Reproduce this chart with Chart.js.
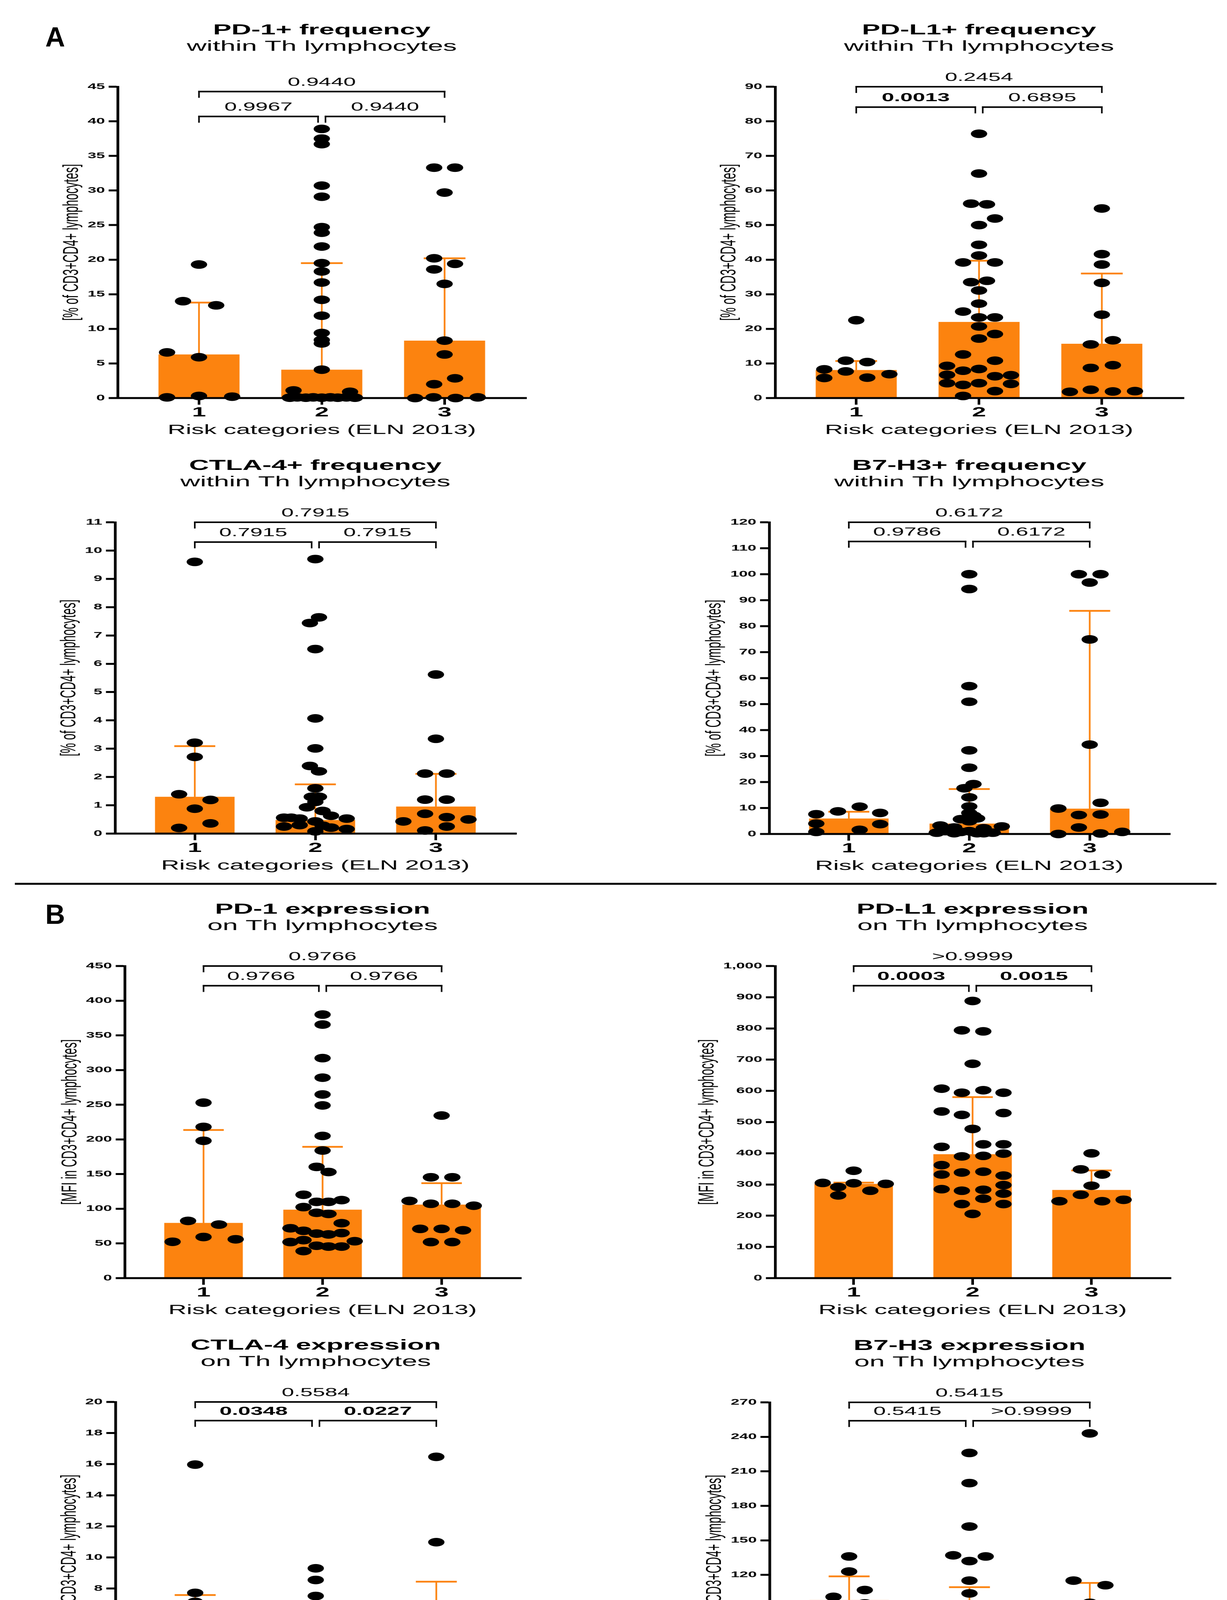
<!DOCTYPE html>
<html>
<head>
<meta charset="utf-8">
<script src="https://cdn.jsdelivr.net/npm/chart.js@4.4.1/dist/chart.umd.min.js"></script>
<style>
  html, body { margin: 0; padding: 0; background: #fff; }
  body { width: 3142px; height: 4522px; position: relative; overflow: hidden; }
  .panel { position: absolute; width: 800px; transform: scaleX(1.9); transform-origin: 0 0; }
  .letter { position: absolute; font: bold 70px 'Liberation Sans', Arial, sans-serif; line-height: 70px; color: #000; }
  .rule { position: absolute; left: 38px; top: 2260px; width: 3077px; height: 5px; background: #000; }
</style>
</head>
<body>
<div class="letter" style="left:116px;top:60px">A</div>
<div class="letter" style="left:116px;top:2306px">B</div>
<div class="rule"></div>
<script>
// --- data ---
const CATEGORIES = [1, 2, 3];
const CAT_LABELS = ['1', '2', '3'];
const X_TITLE = 'Risk categories (ELN 2013)';
// p-values order: 1 vs 3 (top), 1 vs 2, 2 vs 3

// PD-1+ frequency
const pd1FreqMedian = [6.3, 4.1, 8.3];
const pd1FreqUpper = [13.8, 19.5, 20.2];
const pd1FreqP = ['0.9440', '0.9967', '0.9440'];
const pd1FreqBold = [0, 0, 0];
const pd1FreqG1 = [[0,19.3],[-0.13,14.0],[0.14,13.4],[-0.26,6.6],[0,5.9],[-0.26,0.1],[0,0.3],[0.27,0.2]];
const pd1FreqG2 = [[0,38.9],[0,37.5],[0,36.7],[0,30.7],[0,29.1],[0,24.7],[0,23.9],[0,21.9],[0,19.5],[0,18.3],[0,16.7],[0,14.2],[0,11.9],[0,9.4],[0,8.4],[0,7.9],[0,4.1],[-0.23,1.1],[0.23,0.9],[-0.26,0.05],[-0.2,0.1],[-0.13,0.05],[-0.07,0.1],[0,0.05],[0.07,0.1],[0.13,0.05],[0.2,0.1],[0.27,0.05]];
const pd1FreqG3 = [[-0.085,33.3],[0.085,33.3],[0,29.7],[-0.085,20.2],[0.085,19.4],[-0.085,18.6],[0,16.5],[0,8.3],[0,6.3],[0.085,2.85],[-0.085,2.0],[-0.24,0],[-0.09,0.1],[0.09,0],[0.27,0.1]];

// PD-L1+ frequency
const pdl1FreqMedian = [8.1, 22.0, 15.7];
const pdl1FreqUpper = [10.7, 39.7, 36.0];
const pdl1FreqP = ['0.2454', '0.0013', '0.6895'];
const pdl1FreqBold = [0, 1, 0];
const pdl1FreqG1 = [[0,22.5],[-0.085,10.8],[0.09,10.4],[-0.26,8.3],[-0.085,7.7],[0.27,6.9],[-0.26,5.8],[0.09,5.9]];
const pdl1FreqG2 = [[0,76.4],[0,64.9],[-0.065,56.2],[0.065,56.0],[0.13,51.9],[0,50.0],[0,44.3],[0,41.2],[-0.13,39.2],[0.13,39.2],[-0.065,33.5],[0.065,33.9],[0,31.1],[0,27.3],[-0.13,25.0],[0,23.3],[0.13,23.3],[0,20.7],[0.13,18.5],[0,17.2],[-0.13,12.6],[0.13,10.8],[-0.26,9.3],[0,8.4],[-0.13,7.9],[-0.26,6.7],[0.13,6.3],[0.26,6.6],[-0.26,4.3],[-0.13,3.8],[0,4.3],[0.26,4.1],[0.13,2.0],[-0.13,0.6]];
const pdl1FreqG3 = [[0,54.8],[0,41.6],[0,38.6],[0,33.3],[0,24.1],[-0.09,15.5],[0.09,16.7],[-0.09,8.7],[0.09,9.5],[-0.26,1.8],[-0.09,2.4],[0.09,1.9],[0.27,2.0]];

// CTLA-4+ frequency
const ctla4FreqMedian = [1.30, 0.48, 0.955];
const ctla4FreqUpper = [3.09, 1.74, 2.11];
const ctla4FreqP = ['0.7915', '0.7915', '0.7915'];
const ctla4FreqBold = [0, 0, 0];
const ctla4FreqG1 = [[0,9.6],[0,3.21],[0,2.71],[-0.13,1.39],[0.13,1.19],[0,0.88],[0.13,0.36],[-0.13,0.2]];
const ctla4FreqG2 = [[0,9.7],[0.03,7.64],[-0.045,7.44],[0,6.52],[0,4.07],[0,3.01],[-0.045,2.39],[0.03,2.2],[0,1.6],[-0.03,1.3],[0.03,1.3],[0,1.12],[-0.07,0.93],[0.06,0.8],[-0.26,0.56],[-0.2,0.56],[-0.13,0.53],[0.13,0.63],[0.26,0.53],[-0.26,0.25],[-0.13,0.3],[0,0.43],[0.13,0.21],[0.26,0.16],[0,0.08],[0.06,0.28]];
const ctla4FreqG3 = [[0,5.62],[0,3.35],[-0.09,2.12],[0.09,2.12],[-0.09,1.2],[0.09,1.2],[-0.09,0.7],[0.09,0.58],[-0.27,0.43],[0.27,0.5],[0.09,0.25],[-0.09,0.11]];

// B7-H3+ frequency
const b7h3FreqMedian = [5.96, 4.0, 9.76];
const b7h3FreqUpper = [8.56, 17.3, 85.9];
const b7h3FreqP = ['0.6172', '0.9786', '0.6172'];
const b7h3FreqBold = [0, 0, 0];
const b7h3FreqG1 = [[0.09,10.5],[-0.09,8.7],[-0.27,7.6],[0.26,8.1],[-0.27,4.0],[0.26,3.8],[0.09,1.6],[-0.27,0.8]];
const b7h3FreqG2 = [[0,100],[0,94.3],[0,56.9],[0,50.9],[0,32.2],[0,25.5],[0.035,19.2],[-0.04,17.6],[0,14.1],[0,10.6],[0,8.1],[0.035,7.0],[-0.07,5.7],[0.065,6.0],[0,4.9],[-0.24,3.25],[0.27,2.9],[-0.125,2.5],[0.12,2.2],[-0.27,0.5],[-0.125,0.3],[0,1.1],[0.12,0.3],[0.195,0.5],[-0.2,1.1],[0.065,0.3],[-0.07,0.8]];
const b7h3FreqG3 = [[-0.09,100],[0.09,100],[0,96.8],[0,74.9],[0,34.4],[0.09,12.0],[-0.26,9.8],[-0.09,7.3],[0.09,7.5],[-0.09,2.5],[-0.26,0],[0.09,0.2],[0.27,0.8]];

// PD-1 expression
const pd1ExprMedian = [79.6, 98.7, 106];
const pd1ExprUpper = [213.6, 189.3, 136.9];
const pd1ExprP = ['0.9766', '0.9766', '0.9766'];
const pd1ExprBold = [0, 0, 0];
const pd1ExprG1 = [[0,253],[0,218],[0,198],[-0.13,82.5],[0.13,77.2],[0,59.3],[-0.26,52.4],[0.27,56]];
const pd1ExprG2 = [[0,380],[0,365.6],[0,317.2],[0,289],[0,264.8],[0,249],[0,205],[0,184],[-0.05,160.4],[0.05,153],[-0.16,120.2],[-0.05,110],[0.05,110],[0.16,112.5],[-0.16,102.4],[-0.05,94.2],[0.05,92.6],[0.16,79.2],[-0.27,71.9],[-0.16,68.2],[-0.05,64.2],[0.05,63],[0.16,65],[-0.27,52],[-0.16,54.8],[0.27,53.2],[-0.05,46.7],[0.05,45.5],[0.16,45.5],[-0.16,39]];
const pd1ExprG3 = [[0,234.4],[-0.09,145.4],[0.09,145.4],[-0.27,111.3],[-0.09,107.2],[0.09,107.2],[0.27,104.4],[-0.18,71],[0,71],[0.18,69],[-0.09,52],[0.09,52]];

// PD-L1 expression
const pdl1ExprMedian = [302, 397, 282.5];
const pdl1ExprUpper = [306, 580, 345];
const pdl1ExprP = ['>0.9999', '0.0003', '0.0015'];
const pdl1ExprBold = [0, 1, 1];
const pdl1ExprG1 = [[0,344],[-0.26,305],[0,304],[0.27,302],[-0.13,292],[0.14,280],[-0.13,265]];
const pdl1ExprG2 = [[0,888],[-0.09,794],[0.09,790.6],[0,686.8],[-0.26,607],[-0.09,594],[0.09,602],[0.26,594],[-0.26,534],[-0.09,523],[0.26,529],[0,478],[-0.26,420.6],[0.09,428.7],[0.26,428.7],[-0.09,390],[0.09,391.7],[0.26,399],[-0.26,362],[-0.26,332],[-0.09,338.4],[0.09,341],[0.26,328.5],[0.26,298],[-0.26,285],[-0.09,280],[0.09,283],[0.26,270.8],[0.09,254.5],[-0.09,237.4],[0.26,237.4],[0,205.8]];
const pdl1ExprG3 = [[0,399.8],[-0.09,348.4],[0.09,332],[0,296],[-0.09,267],[-0.27,246.4],[0.09,246.4],[0.27,251]];

// CTLA-4 expression
const ctla4ExprMedian = [3.04, 1.0, 4.37];
const ctla4ExprUpper = [7.58, 3.2, 8.44];
const ctla4ExprP = ['0.5584', '0.0348', '0.0227'];
const ctla4ExprBold = [0, 1, 1];
const ctla4ExprG1 = [[0,15.97],[0,7.72],[0,7.14],[-0.13,3.07],[0.13,2.98],[-0.13,2.53],[0.13,2.32],[0,1.19]];
const ctla4ExprG2 = [[0,9.3],[0,8.55],[0,7.52],[0,5.75],[0,3.81],[0,3.33],[0.04,3.11],[-0.035,2.78],[0,2.56],[0.04,2.05],[-0.035,1.65],[-0.22,0.46],[-0.27,0],[-0.2,0],[-0.13,0],[-0.07,0],[0,0],[0.07,0],[0.13,0],[0.2,0],[0.27,0],[-0.1,0],[0.1,0]];
const ctla4ExprG3 = [[0,16.47],[0,10.98],[0.13,5.86],[-0.13,5.43],[-0.13,4.35],[0.13,3.9],[-0.13,3.44],[0,1.28],[0,0]];

// B7-H3 expression
const b7h3ExprMedian = [98.2, 71.7, 73.7];
const b7h3ExprUpper = [118.7, 109.3, 113];
const b7h3ExprP = ['0.5415', '0.5415', '>0.9999'];
const b7h3ExprBold = [0, 0, 0];
const b7h3ExprG1 = [[0,136],[0,122.9],[-0.13,100.9],[0.13,106.8],[0.13,95.2],[0,82.8],[0.13,58.1],[-0.13,55.1]];
const b7h3ExprG2 = [[0,226],[0,199.8],[0,162],[-0.135,137],[0.135,136],[0,132],[0,115],[0,103.9],[0.07,94],[-0.07,88.8],[-0.135,77.4],[0,78.1],[-0.27,71.7],[0.135,71.7],[0.26,74.9],[0,69.7],[-0.135,65.5],[0.26,66.8],[0.135,62.6],[0,59.8],[-0.135,56.4],[0.135,54.4],[0,51.9],[-0.135,48.2],[0,42],[-0.135,40.1],[0.26,40.1],[0.135,35.6],[-0.135,29.7]];
const b7h3ExprG3 = [[0,243],[-0.135,115],[0.13,111],[0,95.7],[0,73.9],[0.13,55.6],[-0.135,50.7],[0.13,45.7],[0,27]];

// --- style / layout ---
const S = 1.9;                 // the whole figure is stretched horizontally
const ORANGE = '#fc830f';
const FONT = "'Liberation Sans', Arial, sans-serif";
const FREQ_Y = '[% of CD3+CD4+ lymphocytes]';
const MFI_Y = '[MFI in CD3+CD4+ lymphocytes]';

// left/top of each canvas and plot edges in page pixels
const PANELS = [
  { left: 0, top: 0, h: 1130, plotL: 302, plotR: 1346, plotT: 222, plotB: 1019,
    title: ['PD-1+ frequency', 'within Th lymphocytes'], yTitle: FREQ_Y, yMax: 45, yStep: 5, bracketY: [44.3, 40.7],
    median: pd1FreqMedian, upper: pd1FreqUpper, groups: [pd1FreqG1, pd1FreqG2, pd1FreqG3], p: pd1FreqP, bold: pd1FreqBold },
  { left: 1600, top: 0, h: 1130, plotL: 1985, plotR: 3029, plotT: 222, plotB: 1019,
    title: ['PD-L1+ frequency', 'within Th lymphocytes'], yTitle: FREQ_Y, yMax: 90, yStep: 10, bracketY: [90, 84.1],
    median: pdl1FreqMedian, upper: pdl1FreqUpper, groups: [pdl1FreqG1, pdl1FreqG2, pdl1FreqG3], p: pdl1FreqP, bold: pdl1FreqBold },
  { left: 0, top: 1130, h: 1110, plotL: 295, plotR: 1320, plotT: 1337, plotB: 2134,
    title: ['CTLA-4+ frequency', 'within Th lymphocytes'], yTitle: FREQ_Y, yMax: 11, yStep: 1, bracketY: [11, 10.3],
    median: ctla4FreqMedian, upper: ctla4FreqUpper, groups: [ctla4FreqG1, ctla4FreqG2, ctla4FreqG3], p: ctla4FreqP, bold: ctla4FreqBold },
  { left: 1600, top: 1130, h: 1110, plotL: 1970, plotR: 2994, plotT: 1337, plotB: 2135,
    title: ['B7-H3+ frequency', 'within Th lymphocytes'], yTitle: FREQ_Y, yMax: 120, yStep: 10, bracketY: [120, 112.6],
    median: b7h3FreqMedian, upper: b7h3FreqUpper, groups: [b7h3FreqG1, b7h3FreqG2, b7h3FreqG3], p: b7h3FreqP, bold: b7h3FreqBold },
  { left: 0, top: 2270, h: 1110, plotL: 320, plotR: 1332, plotT: 2473, plotB: 3272,
    title: ['PD-1 expression', 'on Th lymphocytes'], yTitle: MFI_Y, yMax: 450, yStep: 50, bracketY: [450, 421.6],
    median: pd1ExprMedian, upper: pd1ExprUpper, groups: [pd1ExprG1, pd1ExprG2, pd1ExprG3], p: pd1ExprP, bold: pd1ExprBold },
  { left: 1600, top: 2270, h: 1110, plotL: 1985, plotR: 2996, plotT: 2473, plotB: 3272,
    title: ['PD-L1 expression', 'on Th lymphocytes'], yTitle: MFI_Y, yMax: 1000, yStep: 100, bracketY: [1000, 937],
    median: pdl1ExprMedian, upper: pdl1ExprUpper, groups: [pdl1ExprG1, pdl1ExprG2, pdl1ExprG3], p: pdl1ExprP, bold: pdl1ExprBold },
  { left: 0, top: 3380, h: 1142, plotL: 296, plotR: 1321, plotT: 3589, plotB: 4385,
    title: ['CTLA-4 expression', 'on Th lymphocytes'], yTitle: MFI_Y, yMax: 20, yStep: 2, bracketY: [20, 18.8],
    median: ctla4ExprMedian, upper: ctla4ExprUpper, groups: [ctla4ExprG1, ctla4ExprG2, ctla4ExprG3], p: ctla4ExprP, bold: ctla4ExprBold },
  { left: 1600, top: 3380, h: 1142, plotL: 1971, plotR: 2994, plotT: 3590, plotB: 4385,
    title: ['B7-H3 expression', 'on Th lymphocytes'], yTitle: MFI_Y, yMax: 270, yStep: 30, bracketY: [270, 254],
    median: b7h3ExprMedian, upper: b7h3ExprUpper, groups: [b7h3ExprG1, b7h3ExprG2, b7h3ExprG3], p: b7h3ExprP, bold: b7h3ExprBold },
];

// error bars drawn right after the bars, so the dots sit on top of them
const figurePlugin = {
  id: 'figure',
  afterDatasetDraw(chart, args, o) {
    if (args.index !== 0) return;
    const { ctx, scales: { x, y } } = chart;
    ctx.save();
    ctx.fillStyle = ORANGE;
    o.median.forEach((m, i) => {
      const c = CATEGORIES[i];
      const px = x.getPixelForValue(c);
      const y0 = y.getPixelForValue(m);
      const y1 = y.getPixelForValue(o.upper[i]);
      ctx.fillRect(px - 1.15, y1, 2.3, y0 - y1);
      const xl = x.getPixelForValue(c - 0.17);
      const xr = x.getPixelForValue(c + 0.17);
      ctx.fillRect(xl, y1 - 2.25, xr - xl, 4.5);
    });
    ctx.restore();
  },
  afterDraw(chart, args, o) {
    const { ctx, chartArea: a, scales: { x, y } } = chart;
    const cx = (a.left + a.right) / 2;
    ctx.save();
    ctx.fillStyle = '#000';
    ctx.textAlign = 'center';
    ctx.textBaseline = 'alphabetic';

    // titles
    ctx.font = `bold 37px ${FONT}`;
    ctx.fillText(o.title[0], cx, a.top - 134);
    ctx.font = `37px ${FONT}`;
    ctx.fillText(o.title[1], cx, a.top - 92);

    // x axis title
    ctx.font = `34px ${FONT}`;
    ctx.fillText(X_TITLE, cx, a.bottom + 92);

    // significance brackets
    const yTop = y.getPixelForValue(o.bracketY[0]);
    const yLow = y.getPixelForValue(o.bracketY[1]);
    const x1 = x.getPixelForValue(1), x2 = x.getPixelForValue(2), x3 = x.getPixelForValue(3);
    const bracket = (xa, xb, yy, text, bold) => {
      ctx.fillRect(xa - 1.05, yy - 2, xb - xa + 2.1, 4);
      ctx.fillRect(xa - 1.05, yy - 2, 2.1, 18);
      ctx.fillRect(xb - 1.05, yy - 2, 2.1, 18);
      ctx.font = `${bold ? 'bold ' : ''}30px ${FONT}`;
      ctx.fillText(text, (xa + xb) / 2, yy - 15);
    };
    bracket(x1, x3, yTop, o.p[0], o.bold[0]);
    bracket(x1, x2 - 5, yLow, o.p[1], o.bold[1]);
    bracket(x2 + 5, x3, yLow, o.p[2], o.bold[2]);

    // y axis title, left of the widest tick label
    ctx.font = `bold 21px ${FONT}`;
    const maxW = Math.max(...y.ticks.map(t => ctx.measureText(String(t.label)).width));
    const tx = a.left - 12.5 - 5 - maxW - 21;
    ctx.translate(tx, (a.top + a.bottom) / 2);
    ctx.rotate(-Math.PI / 2);
    ctx.textBaseline = 'middle';
    ctx.font = `29px ${FONT}`;
    ctx.fillText(o.yTitle, 0, 0);
    ctx.restore();
  }
};

PANELS.forEach((p) => {
  const box = document.createElement('div');
  box.className = 'panel';
  box.style.left = p.left + 'px';
  box.style.top = p.top + 'px';
  box.style.height = p.h + 'px';
  const canvas = document.createElement('canvas');
  box.appendChild(canvas);
  document.body.appendChild(box);

  const yAxisW = (p.plotL - p.left) / S;
  const padRight = 800 - (p.plotR - p.left) / S;
  const xAxisH = p.top + p.h - p.plotB;

  const dots = [];
  p.groups.forEach((g, i) => g.forEach(([dx, v]) => dots.push({ x: CATEGORIES[i] + dx, y: v })));

  new Chart(canvas, {
    type: 'bar',
    data: {
      datasets: [{
        type: 'bar',
        data: CATEGORIES.map((c, i) => ({ x: c, y: p.median[i] })),
        backgroundColor: ORANGE,
        borderWidth: 0,
        barPercentage: 0.66,
        categoryPercentage: 1,
        order: 2
      }, {
        type: 'scatter',
        data: dots,
        backgroundColor: '#000',
        borderWidth: 0,
        pointRadius: 11,
        pointHoverRadius: 11,
        clip: false,
        order: 1
      }]
    },
    options: {
      responsive: true,
      maintainAspectRatio: false,
      animation: false,
      devicePixelRatio: 2,
      events: [],
      layout: { padding: { left: 0, right: padRight, top: p.plotT - p.top, bottom: 0 } },
      plugins: {
        legend: { display: false },
        tooltip: { enabled: false },
        figure: p
      },
      scales: {
        x: {
          type: 'linear',
          min: 0.34,
          max: 3.66,
          offset: false,
          afterBuildTicks: (s) => { s.ticks = CATEGORIES.map(v => ({ value: v })); },
          afterFit: (s) => { s.height = xAxisH; },
          ticks: {
            callback: (v) => CAT_LABELS[CATEGORIES.indexOf(v)],
            font: { family: FONT, size: 34, weight: 'bold', lineHeight: 1.2 },
            color: '#000',
            padding: 0,
            maxRotation: 0
          },
          grid: { offset: false, drawOnChartArea: false, drawTicks: true, tickLength: 17, lineWidth: 3.5, color: '#000' },
          border: { display: true, width: 5, color: '#000' }
        },
        y: {
          min: 0,
          max: p.yMax,
          afterFit: (s) => { s.width = yAxisW; },
          ticks: {
            stepSize: p.yStep,
            callback: (v) => v.toLocaleString('en-US'),
            font: { family: FONT, size: 21, weight: 'bold', lineHeight: 1.2 },
            color: '#000',
            padding: 5
          },
          grid: { drawOnChartArea: false, drawTicks: true, tickLength: 12.5, lineWidth: 5, color: '#000' },
          border: { display: true, width: 3.7, color: '#000' }
        }
      }
    },
    plugins: [figurePlugin]
  });
});
</script>
</body>
</html>
